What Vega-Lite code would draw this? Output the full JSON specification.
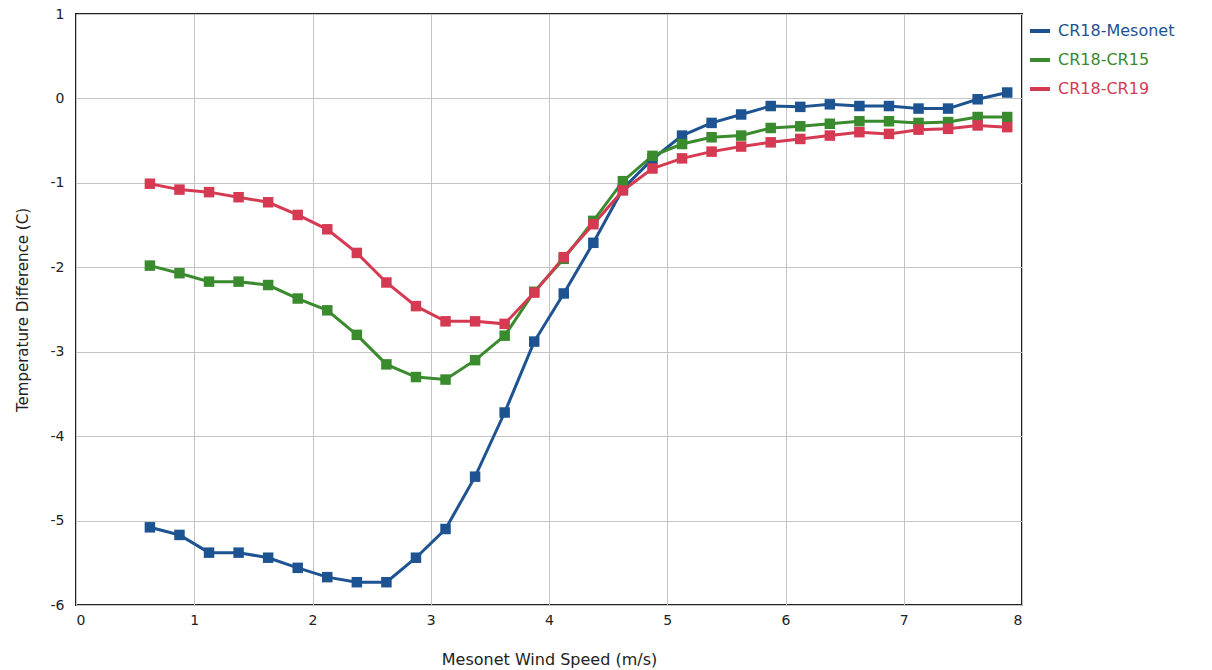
{
  "$schema": "https://vega.github.io/schema/vega-lite/v6.json",
  "width": 946,
  "height": 591,
  "autosize": {"type": "none"},
  "padding": {"left": 76, "top": 14, "right": 190, "bottom": 65},
  "background": "white",
  "config": {
    "font": "DejaVu Sans",
    "view": {"stroke": "#222222", "strokeWidth": 2},
    "axis": {"gridColor": "#c4c4c4", "gridWidth": 1, "domain": false, "ticks": false, "labelColor": "#222222", "titleColor": "#222222", "labelFont": "DejaVu Sans", "titleFont": "DejaVu Sans", "labelExpr": "'' + datum.value"}
  },
  "data": {"values": [
    {"ws":0.625,"s":"CR18-Mesonet","t":-5.08},{"ws":0.875,"s":"CR18-Mesonet","t":-5.17},{"ws":1.125,"s":"CR18-Mesonet","t":-5.38},{"ws":1.375,"s":"CR18-Mesonet","t":-5.38},{"ws":1.625,"s":"CR18-Mesonet","t":-5.44},{"ws":1.875,"s":"CR18-Mesonet","t":-5.56},{"ws":2.125,"s":"CR18-Mesonet","t":-5.67},{"ws":2.375,"s":"CR18-Mesonet","t":-5.73},{"ws":2.625,"s":"CR18-Mesonet","t":-5.73},{"ws":2.875,"s":"CR18-Mesonet","t":-5.44},{"ws":3.125,"s":"CR18-Mesonet","t":-5.10},{"ws":3.375,"s":"CR18-Mesonet","t":-4.48},{"ws":3.625,"s":"CR18-Mesonet","t":-3.72},{"ws":3.875,"s":"CR18-Mesonet","t":-2.88},{"ws":4.125,"s":"CR18-Mesonet","t":-2.31},{"ws":4.375,"s":"CR18-Mesonet","t":-1.71},{"ws":4.625,"s":"CR18-Mesonet","t":-1.07},{"ws":4.875,"s":"CR18-Mesonet","t":-0.72},{"ws":5.125,"s":"CR18-Mesonet","t":-0.44},{"ws":5.375,"s":"CR18-Mesonet","t":-0.29},{"ws":5.625,"s":"CR18-Mesonet","t":-0.19},{"ws":5.875,"s":"CR18-Mesonet","t":-0.09},{"ws":6.125,"s":"CR18-Mesonet","t":-0.10},{"ws":6.375,"s":"CR18-Mesonet","t":-0.07},{"ws":6.625,"s":"CR18-Mesonet","t":-0.09},{"ws":6.875,"s":"CR18-Mesonet","t":-0.09},{"ws":7.125,"s":"CR18-Mesonet","t":-0.12},{"ws":7.375,"s":"CR18-Mesonet","t":-0.12},{"ws":7.625,"s":"CR18-Mesonet","t":-0.01},{"ws":7.875,"s":"CR18-Mesonet","t":0.07},
    {"ws":0.625,"s":"CR18-CR15","t":-1.98},{"ws":0.875,"s":"CR18-CR15","t":-2.07},{"ws":1.125,"s":"CR18-CR15","t":-2.17},{"ws":1.375,"s":"CR18-CR15","t":-2.17},{"ws":1.625,"s":"CR18-CR15","t":-2.21},{"ws":1.875,"s":"CR18-CR15","t":-2.37},{"ws":2.125,"s":"CR18-CR15","t":-2.51},{"ws":2.375,"s":"CR18-CR15","t":-2.80},{"ws":2.625,"s":"CR18-CR15","t":-3.15},{"ws":2.875,"s":"CR18-CR15","t":-3.30},{"ws":3.125,"s":"CR18-CR15","t":-3.33},{"ws":3.375,"s":"CR18-CR15","t":-3.10},{"ws":3.625,"s":"CR18-CR15","t":-2.81},{"ws":3.875,"s":"CR18-CR15","t":-2.29},{"ws":4.125,"s":"CR18-CR15","t":-1.90},{"ws":4.375,"s":"CR18-CR15","t":-1.45},{"ws":4.625,"s":"CR18-CR15","t":-0.98},{"ws":4.875,"s":"CR18-CR15","t":-0.68},{"ws":5.125,"s":"CR18-CR15","t":-0.54},{"ws":5.375,"s":"CR18-CR15","t":-0.46},{"ws":5.625,"s":"CR18-CR15","t":-0.44},{"ws":5.875,"s":"CR18-CR15","t":-0.35},{"ws":6.125,"s":"CR18-CR15","t":-0.33},{"ws":6.375,"s":"CR18-CR15","t":-0.30},{"ws":6.625,"s":"CR18-CR15","t":-0.27},{"ws":6.875,"s":"CR18-CR15","t":-0.27},{"ws":7.125,"s":"CR18-CR15","t":-0.29},{"ws":7.375,"s":"CR18-CR15","t":-0.28},{"ws":7.625,"s":"CR18-CR15","t":-0.22},{"ws":7.875,"s":"CR18-CR15","t":-0.22},
    {"ws":0.625,"s":"CR18-CR19","t":-1.01},{"ws":0.875,"s":"CR18-CR19","t":-1.08},{"ws":1.125,"s":"CR18-CR19","t":-1.11},{"ws":1.375,"s":"CR18-CR19","t":-1.17},{"ws":1.625,"s":"CR18-CR19","t":-1.23},{"ws":1.875,"s":"CR18-CR19","t":-1.38},{"ws":2.125,"s":"CR18-CR19","t":-1.55},{"ws":2.375,"s":"CR18-CR19","t":-1.83},{"ws":2.625,"s":"CR18-CR19","t":-2.18},{"ws":2.875,"s":"CR18-CR19","t":-2.46},{"ws":3.125,"s":"CR18-CR19","t":-2.64},{"ws":3.375,"s":"CR18-CR19","t":-2.64},{"ws":3.625,"s":"CR18-CR19","t":-2.67},{"ws":3.875,"s":"CR18-CR19","t":-2.30},{"ws":4.125,"s":"CR18-CR19","t":-1.88},{"ws":4.375,"s":"CR18-CR19","t":-1.49},{"ws":4.625,"s":"CR18-CR19","t":-1.09},{"ws":4.875,"s":"CR18-CR19","t":-0.83},{"ws":5.125,"s":"CR18-CR19","t":-0.71},{"ws":5.375,"s":"CR18-CR19","t":-0.63},{"ws":5.625,"s":"CR18-CR19","t":-0.57},{"ws":5.875,"s":"CR18-CR19","t":-0.52},{"ws":6.125,"s":"CR18-CR19","t":-0.48},{"ws":6.375,"s":"CR18-CR19","t":-0.44},{"ws":6.625,"s":"CR18-CR19","t":-0.40},{"ws":6.875,"s":"CR18-CR19","t":-0.42},{"ws":7.125,"s":"CR18-CR19","t":-0.37},{"ws":7.375,"s":"CR18-CR19","t":-0.36},{"ws":7.625,"s":"CR18-CR19","t":-0.32},{"ws":7.875,"s":"CR18-CR19","t":-0.34}
  ]},
  "mark": {"type": "line", "strokeWidth": 3, "point": {"filled": true, "shape": "square", "size": 110, "opacity": 1}},
  "encoding": {
    "x": {"field": "ws", "type": "quantitative", "scale": {"domain": [0, 8], "nice": false}, "axis": {"title": "Mesonet Wind Speed (m/s)", "values": [0,1,2,3,4,5,6,7,8], "labelFontSize": 14, "labelPadding": 8, "titleFontSize": 16, "titleFontWeight": "normal", "titlePadding": 24}},
    "y": {"field": "t", "type": "quantitative", "scale": {"domain": [-6, 1], "nice": false}, "axis": {"title": "Temperature Difference (C)", "values": [-6,-5,-4,-3,-2,-1,0,1], "labelFontSize": 14, "labelPadding": 12, "titleFontSize": 15, "titleFontWeight": "normal", "titlePadding": 20}},
    "color": {"field": "s", "type": "nominal", "sort": ["CR18-Mesonet", "CR18-CR15", "CR18-CR19"], "scale": {"domain": ["CR18-Mesonet", "CR18-CR15", "CR18-CR19"], "range": ["#1d5391", "#3a8a2e", "#d63a52"]},
      "legend": {"title": null, "orient": "none", "legendX": 952, "legendY": 5, "symbolType": "stroke", "symbolStrokeWidth": 4, "symbolSize": 400, "labelFontSize": 16, "rowPadding": 9, "labelOffset": 6,
        "encode": {"labels": {"update": {"fill": {"scale": "color", "field": "value"}}}, "symbols": {"update": {"shape": {"value": "stroke"}}}}}}
  }
}
